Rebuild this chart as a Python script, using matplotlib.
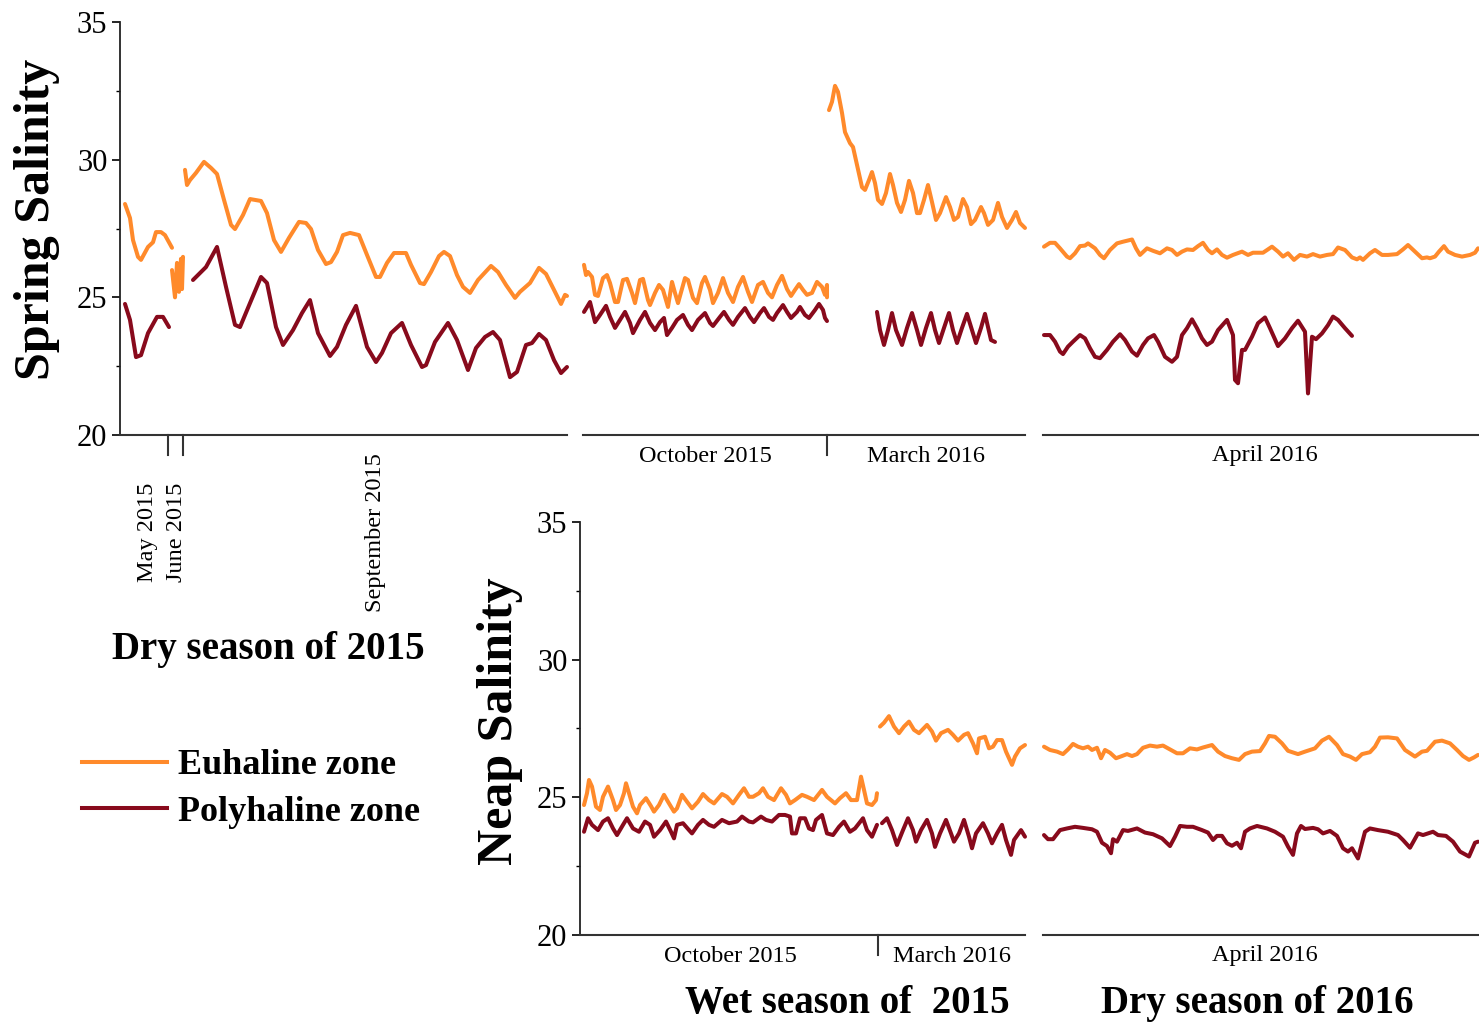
import matplotlib

matplotlib.use("Agg")
import matplotlib.pyplot as plt
from matplotlib.lines import Line2D

plt.rcParams["font.family"] = ["Liberation Serif", "DejaVu Serif"]

ORANGE = "#FF8A2B"
RED = "#880A1C"
LW = 2.9

# ---------------- spring tide, dry season 2015 ----------------
dry15_eu_a_t = [5, 10, 13, 18, 21, 28, 33, 36, 41, 45, 52]
dry15_eu_a = [28.39, 27.88, 27.08, 26.47, 26.36, 26.83, 27.0, 27.37, 27.37, 27.26, 26.8]
dry15_eu_b_t = [52, 55, 57, 59, 61, 62, 63]
dry15_eu_b = [25.99, 25.0, 26.25, 25.2, 26.4, 25.3, 26.47]
dry15_eu_c_t = [65, 67, 70, 76, 84, 91, 97, 104, 111, 115, 123, 130, 141, 147, 154, 161,
                169, 179, 186, 191, 198, 206, 211, 217, 223, 230, 239, 247, 256, 260, 267,
                274, 286, 291, 300, 304, 311, 319, 324, 330, 337, 343, 350, 358, 371, 378,
                386, 395, 400, 410, 419, 426, 434, 441, 445, 447]
dry15_eu_c = [29.63, 29.08, 29.26, 29.52, 29.92, 29.7, 29.48, 28.54, 27.63, 27.48, 27.99,
              28.57, 28.5, 28.06, 27.08, 26.65, 27.16, 27.74, 27.7, 27.48, 26.72, 26.21,
              26.28, 26.65, 27.26, 27.34, 27.26, 26.54, 25.74, 25.74, 26.25, 26.61, 26.61,
              26.18, 25.52, 25.48, 25.92, 26.5, 26.65, 26.5, 25.81, 25.38, 25.16, 25.63,
              26.14, 25.92, 25.45, 24.98, 25.2, 25.52, 26.07, 25.85, 25.27, 24.76, 25.09, 25.05]
dry15_po_a_t = [5, 10, 16, 21, 28, 37, 43, 49]
dry15_po_a = [24.76, 24.18, 22.83, 22.9, 23.7, 24.29, 24.29, 23.92]
dry15_po_b_t = [73, 86, 97, 106, 115, 120, 130, 141, 147, 156, 163, 173, 182, 190, 198, 210,
                217, 226, 236, 247, 256, 262, 271, 282, 291, 302, 306, 315, 328, 337, 348,
                356, 365, 373, 380, 390, 397, 406, 412, 419, 426, 434, 441, 447]
dry15_po_b = [25.63, 26.1, 26.83, 25.38, 24.0, 23.92, 24.79, 25.74, 25.52, 23.92, 23.27,
              23.81, 24.43, 24.9, 23.7, 22.87, 23.2, 24.0, 24.69, 23.2, 22.65, 22.98, 23.7,
              24.07, 23.27, 22.47, 22.54, 23.38, 24.07, 23.45, 22.36, 23.16, 23.56, 23.74,
              23.45, 22.1, 22.29, 23.27, 23.34, 23.67, 23.45, 22.72, 22.25, 22.47]

# ---------------- spring tide, wet season 2015 ----------------
wet_sp_eu_t = [1, 3, 5, 9, 12, 15, 20, 24, 27, 32, 35, 40, 44, 49, 52, 57, 60, 65, 67, 72,
               76, 80, 85, 89, 92, 95, 102, 105, 110, 114, 119, 122, 127, 130, 135, 140,
               145, 150, 155, 160, 165, 169, 175, 180, 185, 189, 194, 199, 204, 208, 212,
               216, 220, 224, 229, 234, 239, 242, 244, 244]
wet_sp_eu = [26.18, 25.81, 25.92, 25.74, 25.09, 25.05, 25.7, 25.81, 25.52, 24.83, 24.83,
             25.63, 25.67, 25.16, 24.79, 25.63, 25.67, 24.9, 24.72, 25.16, 25.45, 25.27,
             24.65, 25.56, 25.16, 24.79, 25.7, 25.63, 24.98, 24.79, 25.52, 25.74, 25.27,
             24.79, 25.16, 25.7, 25.16, 24.83, 25.38, 25.74, 25.2, 24.83, 25.45, 25.56,
             25.16, 25.0, 25.45, 25.78, 25.3, 25.05, 25.27, 25.48, 25.27, 25.09, 25.16,
             25.56, 25.38, 25.09, 25.45, 25.0]
wet_sp_po_t = [1, 7, 12, 17, 23, 27, 32, 37, 42, 47, 50, 57, 62, 67, 72, 77, 81, 84, 89, 94,
               100, 105, 109, 115, 122, 127, 130, 137, 141, 146, 150, 155, 162, 167, 171,
               177, 181, 186, 190, 194, 200, 204, 208, 214, 217, 222, 226, 232, 236, 240,
               242, 244]
wet_sp_po = [24.47, 24.83, 24.1, 24.36, 24.69, 24.29, 23.89, 24.18, 24.47, 24.07, 23.7,
             24.18, 24.47, 24.07, 23.81, 24.1, 24.25, 23.63, 23.89, 24.18, 24.36, 24.0,
             23.81, 24.18, 24.43, 24.07, 23.96, 24.29, 24.47, 24.18, 24.0, 24.29, 24.61,
             24.29, 24.1, 24.43, 24.61, 24.29, 24.18, 24.43, 24.72, 24.47, 24.25, 24.47,
             24.65, 24.36, 24.25, 24.54, 24.76, 24.54, 24.25, 24.14]
mar_sp_eu_t = [246, 249, 252, 255, 259, 262, 267, 270, 274, 279, 282, 286, 289, 292, 295,
               299, 303, 307, 310, 314, 318, 322, 326, 330, 334, 337, 341, 345, 349, 353,
               357, 363, 367, 371, 375, 380, 384, 388, 392, 398, 401, 405, 410, 415, 419,
               424, 429, 433, 437, 442]
mar_sp_eu = [31.8, 32.1, 32.68, 32.46, 31.7, 31.0, 30.6, 30.46, 29.81, 29.0, 28.9, 29.26,
             29.55, 29.15, 28.54, 28.39, 28.79, 29.48, 29.08, 28.43, 28.1, 28.54, 29.23,
             28.79, 28.06, 28.06, 28.54, 29.08, 28.46, 27.81, 28.06, 28.64, 28.28, 27.81,
             27.92, 28.57, 28.28, 27.66, 27.81, 28.28, 28.06, 27.63, 27.81, 28.43, 27.92,
             27.52, 27.81, 28.1, 27.7, 27.52]
mar_sp_po_t = [294, 297, 301, 305, 309, 313, 319, 324, 329, 334, 338, 343, 348, 352, 356,
               361, 366, 370, 374, 379, 384, 389, 393, 398, 402, 405, 408, 412]
mar_sp_po = [24.47, 23.81, 23.27, 23.81, 24.43, 23.81, 23.27, 23.89, 24.43, 23.81, 23.27,
             23.89, 24.43, 23.81, 23.34, 23.89, 24.43, 23.81, 23.34, 23.89, 24.4, 23.81,
             23.34, 23.89, 24.4, 23.92, 23.45, 23.38]

# ---------------- spring tide, dry season 2016 ----------------
dry16_sp_eu_t = [1, 7, 12, 17, 24, 27, 32, 37, 42, 45, 52, 57, 61, 67, 74, 80, 89, 93, 97,
                 104, 110, 117, 124, 129, 134, 139, 144, 150, 155, 160, 165, 169, 174, 179,
                 184, 190, 199, 205, 210, 220, 229, 235, 240, 245, 251, 257, 264, 270, 277,
                 284, 290, 295, 302, 309, 314, 317, 320, 327, 332, 339, 345, 354, 360, 365,
                 372, 379, 384, 387, 392, 396, 401, 405, 412, 419, 427, 432, 435]
dry16_sp_eu = [26.84, 26.98, 26.98, 26.78, 26.48, 26.42, 26.6, 26.86, 26.88, 26.96, 26.78,
               26.54, 26.42, 26.72, 26.96, 27.02, 27.1, 26.78, 26.54, 26.78, 26.69, 26.6,
               26.78, 26.72, 26.54, 26.66, 26.74, 26.72, 26.86, 26.98, 26.72, 26.6, 26.74,
               26.54, 26.44, 26.54, 26.66, 26.54, 26.62, 26.62, 26.84, 26.66, 26.48, 26.6,
               26.36, 26.54, 26.48, 26.57, 26.48, 26.54, 26.57, 26.81, 26.72, 26.45, 26.38,
               26.45, 26.36, 26.6, 26.72, 26.54, 26.54, 26.57, 26.74, 26.9, 26.66, 26.42,
               26.45, 26.42, 26.48, 26.66, 26.86, 26.66, 26.54, 26.48, 26.54, 26.62, 26.78]
dry16_sp_po_t = [1, 7, 12, 17, 20, 25, 30, 37, 42, 47, 52, 57, 64, 70, 77, 82, 89, 94, 100,
                 105, 111, 115, 122, 129, 134, 139, 144, 149, 154, 159, 164, 169, 175, 184,
                 190, 192, 195, 199, 202, 209, 215, 222, 227, 235, 242, 249, 255, 262, 265,
                 269, 273, 279, 285, 290, 295, 302, 309]
dry16_sp_po = [23.63, 23.63, 23.39, 23.03, 22.94, 23.21, 23.39, 23.63, 23.51, 23.15, 22.84,
               22.79, 23.09, 23.39, 23.66, 23.45, 23.03, 22.88, 23.27, 23.51, 23.63, 23.39,
               22.84, 22.66, 22.84, 23.63, 23.88, 24.2, 23.88, 23.51, 23.27, 23.39, 23.81,
               24.18, 23.63, 22.0, 21.88, 23.09, 23.09, 23.57, 24.06, 24.27, 23.88, 23.23,
               23.51, 23.88, 24.15, 23.75, 21.51, 23.57, 23.48, 23.69, 23.99, 24.3, 24.18,
               23.88, 23.6]

# ---------------- neap tide, wet season 2015 ----------------
wet_np_eu_t = [4, 7, 9, 12, 16, 20, 23, 28, 33, 36, 40, 44, 46, 49, 53, 57, 60, 66, 71, 74,
               79, 84, 88, 94, 97, 102, 107, 112, 118, 123, 129, 134, 142, 147, 153, 159,
               164, 169, 173, 179, 183, 188, 194, 201, 206, 210, 215, 222, 227, 234, 242,
               247, 255, 260, 266, 271, 277, 281, 284, 287, 292, 296, 297]
wet_np_eu = [24.72, 25.15, 25.63, 25.39, 24.66, 24.54, 25.02, 25.39, 24.9, 24.54, 24.72,
             25.15, 25.51, 25.15, 24.66, 24.42, 24.72, 24.97, 24.68, 24.48, 24.72, 25.09,
             24.84, 24.48, 24.6, 25.09, 24.84, 24.6, 24.84, 25.12, 24.9, 24.78, 25.12,
             25.02, 24.78, 25.09, 25.33, 25.02, 25.02, 25.15, 25.33, 25.02, 24.9, 25.33,
             25.09, 24.78, 24.9, 25.09, 25.02, 24.9, 25.27, 25.02, 24.78, 24.97, 25.15,
             24.9, 24.9, 25.75, 25.27, 24.78, 24.72, 24.9, 25.15]
wet_np_po_t = [4, 8, 12, 18, 23, 28, 33, 37, 43, 47, 53, 59, 65, 70, 74, 80, 86, 91, 94, 97,
               103, 109, 112, 118, 123, 129, 134, 142, 149, 157, 162, 169, 173, 181, 186,
               192, 199, 205, 210, 212, 216, 220, 225, 229, 233, 236, 242, 247, 253, 259,
               264, 270, 275, 283, 287, 292, 297]
wet_np_po = [23.75, 24.24, 24.0, 23.81, 24.12, 24.24, 23.87, 23.63, 24.0, 24.24, 23.87,
             23.75, 24.12, 24.0, 23.57, 23.81, 24.12, 23.75, 23.51, 24.0, 24.06, 23.81,
             23.69, 24.0, 24.18, 24.0, 23.93, 24.18, 24.06, 24.12, 24.3, 24.12, 24.09, 24.3,
             24.18, 24.12, 24.36, 24.36, 24.3, 23.69, 23.69, 24.24, 24.24, 23.87, 23.81,
             24.18, 24.36, 23.69, 23.63, 23.93, 24.12, 23.75, 23.87, 24.24, 23.81, 23.57, 24.0]
mar_np_eu_t = [300, 304, 309, 314, 319, 324, 329, 334, 339, 347, 352, 356, 361, 368, 373,
               378, 384, 388, 393, 397, 399, 405, 409, 413, 417, 422, 426, 432, 435, 440, 445]
mar_np_eu = [27.57, 27.71, 27.95, 27.57, 27.33, 27.57, 27.75, 27.45, 27.33, 27.63, 27.39,
             27.06, 27.33, 27.45, 27.27, 27.06, 27.27, 27.33, 26.96, 26.6, 27.14, 27.2,
             26.78, 26.84, 27.08, 27.08, 26.66, 26.18, 26.48, 26.78, 26.9]
mar_np_po_t = [302, 307, 312, 317, 323, 328, 333, 336, 341, 347, 352, 355, 360, 366, 371,
               374, 379, 384, 389, 392, 396, 403, 408, 412, 417, 422, 426, 431, 434, 441, 445]
mar_np_po = [24.06, 24.24, 23.81, 23.27, 23.81, 24.24, 23.81, 23.39, 23.81, 24.18, 23.69,
             23.2, 23.69, 24.18, 23.69, 23.39, 23.69, 24.18, 23.57, 23.15, 23.69, 24.06,
             23.69, 23.33, 23.69, 24.0, 23.45, 22.91, 23.45, 23.81, 23.57]

# ---------------- neap tide, dry season 2016 ----------------
dry16_np_eu_t = [1, 7, 14, 20, 25, 30, 35, 40, 45, 49, 54, 58, 62, 67, 73, 79, 84, 89, 94,
                 100, 107, 114, 120, 127, 134, 140, 147, 154, 160, 169, 175, 182, 189, 196,
                 202, 209, 217, 222, 226, 232, 239, 245, 255, 262, 272, 279, 286, 294, 300,
                 307, 313, 319, 327, 332, 337, 345, 354, 362, 372, 379, 384, 392, 399, 407,
                 414, 420, 426, 431, 435]
dry16_np_eu = [26.84, 26.72, 26.66, 26.57, 26.74, 26.94, 26.84, 26.78, 26.84, 26.72, 26.8,
               26.42, 26.72, 26.62, 26.42, 26.5, 26.57, 26.5, 26.57, 26.8, 26.88, 26.84,
               26.88, 26.74, 26.6, 26.6, 26.78, 26.74, 26.81, 26.9, 26.66, 26.5, 26.42,
               26.36, 26.57, 26.66, 26.68, 26.96, 27.23, 27.2, 26.96, 26.69, 26.57, 26.66,
               26.78, 27.06, 27.2, 26.9, 26.57, 26.48, 26.36, 26.57, 26.64, 26.84, 27.17,
               27.18, 27.14, 26.72, 26.48, 26.66, 26.69, 27.02, 27.06, 26.96, 26.72, 26.5,
               26.36, 26.45, 26.54]
dry16_np_po_t = [1, 5, 10, 17, 24, 32, 40, 49, 54, 59, 64, 68, 70, 74, 80, 85, 94, 102, 110,
                 119, 127, 132, 137, 144, 150, 159, 165, 170, 174, 179, 184, 189, 194, 198,
                 202, 207, 214, 224, 232, 240, 245, 250, 254, 258, 262, 270, 275, 280, 287,
                 294, 300, 305, 309, 315, 322, 327, 335, 345, 355, 360, 367, 375, 380, 390,
                 395, 403, 410, 417, 426, 432, 435]
dry16_np_po = [23.63, 23.48, 23.48, 23.81, 23.87, 23.93, 23.89, 23.84, 23.75, 23.35, 23.23,
               22.97, 23.48, 23.39, 23.81, 23.78, 23.87, 23.72, 23.66, 23.51, 23.23, 23.57,
               23.96, 23.93, 23.93, 23.81, 23.72, 23.45, 23.6, 23.6, 23.33, 23.24, 23.35,
               23.15, 23.75, 23.87, 23.96, 23.87, 23.75, 23.57, 23.21, 22.91, 23.69, 23.96,
               23.85, 23.89, 23.84, 23.69, 23.78, 23.6, 23.15, 23.03, 23.15, 22.78, 23.75,
               23.87, 23.81, 23.75, 23.63, 23.45, 23.17, 23.69, 23.63, 23.75, 23.63, 23.6,
               23.39, 23.03, 22.85, 23.35, 23.39]

W, H = 1479, 1028
fig = plt.figure(figsize=(W / 100, H / 100), dpi=100)


def panel(left, bottom, width, xmax, yaxis=False):
    ax = fig.add_axes([left / W, 1 - bottom / H, width / W, 413 / H])
    ax.set_xlim(0, xmax)
    ax.set_ylim(20, 35)
    ax.patch.set_visible(False)
    for s in ["top", "right"]:
        ax.spines[s].set_visible(False)
    ax.spines["bottom"].set_color("#333333")
    ax.spines["bottom"].set_linewidth(1.5)
    ax.set_xticks([])
    if yaxis:
        ax.spines["left"].set_color("#222222")
        ax.spines["left"].set_linewidth(1.3)
        ax.set_yticks([20, 25, 30, 35])
        ax.set_yticks([22.5, 27.5, 32.5], minor=True)
        ax.tick_params(axis="y", which="major", length=6, width=1.2, labelsize=22, pad=3)
        ax.tick_params(axis="y", which="minor", length=3, width=1.0)
    else:
        ax.spines["left"].set_visible(False)
        ax.set_yticks([])
    return ax


def xmark(ax, x):
    ax.plot([x, x], [0, -20 / 413], color="#333333", lw=1.5,
            transform=ax.get_xaxis_transform(), clip_on=False)


def xlabel(ax, x, text, dy, rot=0, va="center"):
    ax.annotate(text, xy=(x, 0), xycoords=("data", "axes fraction"),
                xytext=(0, -dy * 0.72), textcoords="offset points",
                ha="center", va=va, rotation=rot, fontsize=17.5)


def draw(ax, t, y, color):
    ax.plot(t, y, color=color, lw=LW, solid_joinstyle="round",
            solid_capstyle="round", clip_on=False)


ax1 = panel(120, 435, 447, 447, yaxis=True)
ax2 = panel(583, 435, 442, 442)
ax3 = panel(1043, 435, 436, 436)
ax4 = panel(580, 935, 445, 445, yaxis=True)
ax5 = panel(1043, 935, 436, 436)

draw(ax1, dry15_eu_a_t, dry15_eu_a, ORANGE)
draw(ax1, dry15_eu_b_t, dry15_eu_b, ORANGE)
draw(ax1, dry15_eu_c_t, dry15_eu_c, ORANGE)
draw(ax1, dry15_po_a_t, dry15_po_a, RED)
draw(ax1, dry15_po_b_t, dry15_po_b, RED)

draw(ax2, wet_sp_eu_t, wet_sp_eu, ORANGE)
draw(ax2, wet_sp_po_t, wet_sp_po, RED)
draw(ax2, mar_sp_eu_t, mar_sp_eu, ORANGE)
draw(ax2, mar_sp_po_t, mar_sp_po, RED)

draw(ax3, dry16_sp_eu_t, dry16_sp_eu, ORANGE)
draw(ax3, dry16_sp_po_t, dry16_sp_po, RED)

draw(ax4, wet_np_eu_t, wet_np_eu, ORANGE)
draw(ax4, wet_np_po_t, wet_np_po, RED)
draw(ax4, mar_np_eu_t, mar_np_eu, ORANGE)
draw(ax4, mar_np_po_t, mar_np_po, RED)

draw(ax5, dry16_np_eu_t, dry16_np_eu, ORANGE)
draw(ax5, dry16_np_po_t, dry16_np_po, RED)

# month markers and labels
xmark(ax1, 48)
xmark(ax1, 63)
xlabel(ax1, 27, "May 2015", 147, rot=90, va="bottom")
xlabel(ax1, 56, "June 2015", 147, rot=90, va="bottom")
xlabel(ax1, 255, "September 2015", 177, rot=90, va="bottom")

xmark(ax2, 244)
xlabel(ax2, 122, "October 2015", 21)
xlabel(ax2, 343, "March 2016", 21)
xlabel(ax3, 222, "April 2016", 21)

xmark(ax4, 298)
xlabel(ax4, 150, "October 2015", 21)
xlabel(ax4, 372, "March 2016", 21)
xlabel(ax5, 222, "April 2016", 20)

# axis titles
fig.text(37 / W, 1 - 219 / H, "Spring Salinity", rotation=90, ha="center", va="center",
         fontsize=36, fontweight="bold")
fig.text(500 / W, 1 - 721 / H, "Neap Salinity", rotation=90, ha="center", va="center",
         fontsize=36, fontweight="bold")
fig.text(268 / W, 1 - 650 / H, "Dry season of 2015", ha="center", va="center",
         fontsize=28, fontweight="bold")
fig.text(847 / W, 1 - 1004 / H, "Wet season of  2015", ha="center", va="center",
         fontsize=28, fontweight="bold")
fig.text(1257 / W, 1 - 1004 / H, "Dry season of 2016", ha="center", va="center",
         fontsize=28, fontweight="bold")

handles = [Line2D([], [], color=ORANGE, lw=LW), Line2D([], [], color=RED, lw=LW)]
fig.legend(handles, ["Euhaline zone", "Polyhaline zone"], loc="upper left",
           bbox_to_anchor=(82 / W, 1 - 749 / H), frameon=False, borderpad=0,
           borderaxespad=0, handlelength=2.35, handletextpad=0.3, labelspacing=0.37,
           prop={"size": 26, "weight": "bold"})

fig.savefig("out.png", dpi=100)
